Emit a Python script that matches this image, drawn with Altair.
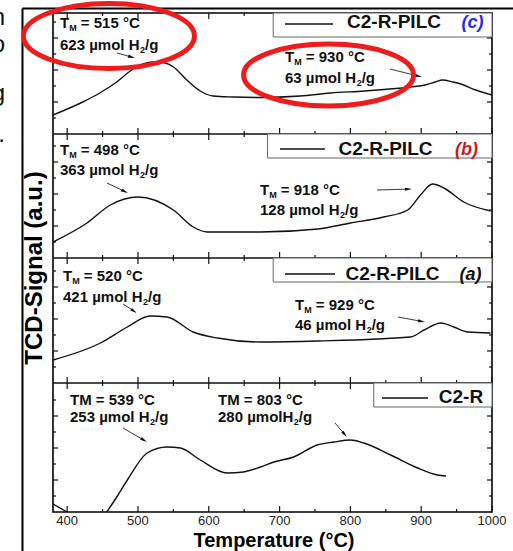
import math
import altair as alt
import pandas as pd

# ---------------- data (temperature in °C, signal height within each panel, a.u.) ----------------
temp_c = [380, 422, 446, 470, 493, 507, 520, 535, 550, 569, 588, 606, 634, 673, 729, 772, 820, 885, 906, 920, 930, 945, 956, 977, 1000]
sig_c = [18, 31, 40, 51, 64, 69, 71, 70.5, 66, 53, 42, 37, 36, 35.5, 37, 40, 42, 46, 48, 51, 53, 51, 49, 43, 38]

temp_b = [380, 428, 461, 500, 550, 578, 598, 673, 754, 800, 847, 881, 899, 916, 932, 960, 998]
sig_b = [16, 35, 53, 61, 48, 31, 26, 26, 29, 35, 41, 48, 63, 74, 70, 56, 47]

temp_a = [380, 447, 485, 517, 541, 578, 612, 673, 754, 885, 904, 928, 946, 966, 998]
sig_a = [23, 40, 56, 67, 66, 51, 45, 41, 42, 46, 53, 60, 56, 51, 50]

temp_r = [456, 470, 485, 513, 541, 560, 588, 626, 649, 673, 692, 720, 753, 777, 800, 819, 857, 895, 923, 935]
sig_r = [0, 15, 32, 59, 65, 64, 52, 39, 40, 45, 50, 55, 67, 70, 72, 69, 57, 44, 37, 36]

temp_r_tail = [380, 400]
sig_r_tail = [8, 0]

x_tick_labels = [400, 500, 600, 700, 800, 900, 1000]
x_title = "Temperature (°C)"
y_title = "TCD-Signal (a.u.)"
sample_names = ["C2-R-PILC", "C2-R-PILC", "C2-R-PILC", "C2-R"]
sample_tags = ["(c)", "(b)", "(a)", ""]
tag_colors = ["#2a2aee", "#cc1a1a", "#111111", "#111111"]

# ---------------- layout ----------------
W, H = 439, 499
X0, X1 = 380, 1000
PX = (X1 - X0) / W          # temperature units per pixel
panel_base = {"c": 379, "b": 254, "a": 129, "r": 0}
panel_edges = [0, 129, 254, 378, 499]
FONT = "Liberation Sans"

xs = alt.Scale(domain=[X0, X1], nice=False, zero=False)
ys = alt.Scale(domain=[0, H], nice=False, zero=False)

# curves
rows = []
for key, T, S in [("c", temp_c, sig_c), ("b", temp_b, sig_b), ("a", temp_a, sig_a), ("r", temp_r, sig_r)]:
    for t, s in zip(T, S):
        rows.append({"series": key, "T": t, "S": s + panel_base[key]})
for t, s in zip(temp_r_tail, sig_r_tail):
    rows.append({"series": "r_tail", "T": t, "S": s})
curve_df = pd.DataFrame(rows)

# ticks (inward)
tick_rows = []
for i, e in enumerate(panel_edges):
    dirs = []
    if i < len(panel_edges) - 1:
        dirs.append(1)
    if i > 0:
        dirs.append(-1)
    for d in dirs:
        for v in range(400, 1001, 50):
            ln = 6 if v % 100 == 0 else 3
            tick_rows.append({"x0": v, "x1": v, "y0": e, "y1": e + d * ln})
for lo, hi in zip(panel_edges[:-1], panel_edges[1:]):
    k = 1
    while lo + 16 * k < hi - 3:
        y = lo + 16 * k
        ln = 5 if k % 2 == 0 else 3
        tick_rows.append({"x0": X0, "x1": X0 + ln * PX, "y0": y, "y1": y})
        tick_rows.append({"x0": X1, "x1": X1 - ln * PX, "y0": y, "y1": y})
        k += 1
tick_df = pd.DataFrame(tick_rows)
sep_df = pd.DataFrame([{"x0": X0, "x1": X1, "y0": e} for e in panel_edges[1:-1]])

# axis labels and titles
xlab_df = pd.DataFrame([{"T": v, "S": -13, "label": str(v)} for v in x_tick_labels])
xtitle_df = pd.DataFrame([{"T": (X0 + X1) / 2 + 1.5 * PX, "S": -35, "label": x_title}])
ytitle_df = pd.DataFrame([{"T": X0 - 11 * PX, "S": 244, "label": y_title}])

# legend boxes
box_df = pd.DataFrame([
    {"x0": 691, "x1": X1, "y0": 475, "y1": 499},
    {"x0": 683, "x1": X1, "y0": 354, "y1": 378},
    {"x0": 691, "x1": X1, "y0": 230, "y1": 254},
    {"x0": 833, "x1": X1, "y0": 105, "y1": 129},
])
legend_line_df = pd.DataFrame([
    {"x0": 707.6, "x1": 775.4, "y0": 488},
    {"x0": 700.6, "x1": 764.1, "y0": 363},
    {"x0": 707.6, "x1": 778.3, "y0": 238},
    {"x0": 844.6, "x1": 909.6, "y0": 114},
])
name_pos = [(861.6, 484), (849.6, 357), (859.5, 232), (956.2, 109)]
tag_pos = [(972.4, 484), (964.0, 357), (969.6, 232), (0, 0)]
name_df = pd.DataFrame([{"T": p[0], "S": p[1], "label": n} for p, n in zip(name_pos, sample_names)])
tag_df = pd.DataFrame([{"T": p[0], "S": p[1], "label": t, "col": c}
                       for p, t, c in zip(tag_pos, sample_tags, tag_colors) if t])

# annotations
annotations = [
    (389.9, 484, [("T", 0), ("M", 1), (" = 515 °C", 0)]),
    (389.9, 462, [("623 µmol H", 0), ("2", 1), ("/g", 0)]),
    (707.6, 450, [("T", 0), ("M", 1), (" = 930 °C", 0)]),
    (707.6, 429, [("63 µmol H", 0), ("2", 1), ("/g", 0)]),
    (389.9, 357, [("T", 0), ("M", 1), (" = 498 °C", 0)]),
    (389.9, 337, [("363 µmol H", 0), ("2", 1), ("/g", 0)]),
    (672.3, 317, [("T", 0), ("M", 1), (" = 918 °C", 0)]),
    (672.3, 297, [("128 µmol H", 0), ("2", 1), ("/g", 0)]),
    (394.1, 231, [("T", 0), ("M", 1), (" = 520 °C", 0)]),
    (394.1, 210, [("421 µmol H", 0), ("2", 1), ("/g", 0)]),
    (721.8, 202, [("T", 0), ("M", 1), (" = 929 °C", 0)]),
    (721.8, 182, [("46 µmol H", 0), ("2", 1), ("/g", 0)]),
    (404.0, 107, [("TM = 539 °C", 0)]),
    (404.0, 90, [("253 µmol H", 0), ("2", 1), ("/g", 0)]),
    (613.0, 107, [("TM = 803 °C", 0)]),
    (613.0, 90, [("280 µmolH", 0), ("2", 1), ("/g", 0)]),
]
WB = {' ': 0.278, 'T': 0.611, 'M': 0.833, '=': 0.584, '°': 0.4, 'C': 0.722, 'µ': 0.611,
      'm': 0.889, 'o': 0.611, 'l': 0.278, 'H': 0.722, '/': 0.278, 'g': 0.611}


def text_w(s, size):
    return sum(WB.get(ch, 0.556) for ch in s) * size


ANN_SIZE, SUB_SIZE = 15, 9
main_rows, sub_rows = [], []
for t0, s0, parts in annotations:
    adv = 0.0
    for txt, sub in parts:
        size = SUB_SIZE if sub else ANN_SIZE
        while txt.startswith(" "):
            adv += text_w(" ", size)
            txt = txt[1:]
        row = {"T": t0 + adv * PX, "S": s0 - (3 if sub else 0), "label": txt}
        (sub_rows if sub else main_rows).append(row)
        adv += text_w(txt, size)
ann_main_df = pd.DataFrame(main_rows)
ann_sub_df = pd.DataFrame(sub_rows)

arrows = [
    ((470.4, 459), (495.8, 454)),
    ((855.9, 443), (901.1, 435)),
    ((456.3, 329), (485.9, 319)),
    ((837.6, 322), (887.0, 323)),
    ((478.9, 208), (498.6, 199)),
    ((867.2, 195), (905.4, 190)),
    ((478.9, 84), (512.8, 70)),
    ((778.3, 89), (795.2, 75)),
]
arr_rows, head_rows = [], []
for (ta, sa), (tb, sb) in arrows:
    dxp, dyp = (tb - ta) / PX, -(sb - sa)
    L = math.hypot(dxp, dyp)
    ux, uy = dxp / L, dyp / L
    hx, hy = tb - 3.5 * ux * PX, sb + 3.5 * uy
    arr_rows.append({"x0": ta, "x1": hx, "y0": sa, "y1": hy})
    head_rows.append({"T": hx, "S": hy, "ang": math.degrees(math.atan2(dyp, dxp)) % 360})
arr_df = pd.DataFrame(arr_rows)
head_df = pd.DataFrame(head_rows)

# outer frame of the cropped figure
frame_df = pd.DataFrame([
    {"x0": 336.9, "x1": 1030.0, "y0": 503.5, "y1": 503.5},
    {"x0": 336.9, "x1": 336.9, "y0": 503.5, "y1": -40},
])

# stray characters cut at the left edge
stray_df = pd.DataFrame([
    {"T": 312.2, "S": 487, "label": "n"},
    {"T": 312.2, "S": 460, "label": "o"},
    {"T": 312.2, "S": 411, "label": "g"},
    {"T": 312.2, "S": 370, "label": "."},
])

# red highlight ellipses
ell_rows = [
    {"T": 459.0, "S": 476, "size": 171 ** 2, "r": 0.38},
    {"T": 769.2, "S": 437, "size": 170 ** 2, "r": 0.365},
]


def ellipse_path(r):
    k = 0.5523
    return (f"M 1 0 C 1 {k*r:.4f} {k:.4f} {r:.4f} 0 {r:.4f} "
            f"C {-k:.4f} {r:.4f} -1 {k*r:.4f} -1 0 "
            f"C -1 {-k*r:.4f} {-k:.4f} {-r:.4f} 0 {-r:.4f} "
            f"C {k:.4f} {-r:.4f} 1 {-k*r:.4f} 1 0 Z")


# ---------------- chart ----------------
def XF(f):
    return alt.X(f"{f}:Q", scale=xs, axis=None)


def YF(f):
    return alt.Y(f"{f}:Q", scale=ys, axis=None)


curves = alt.Chart(curve_df).mark_line(
    interpolate="monotone", color="#111111", strokeWidth=1.4, clip=True
).encode(x=XF("T"), y=YF("S"), detail="series:N")

ticks = alt.Chart(tick_df).mark_rule(color="#111111", strokeWidth=1.2).encode(
    x=XF("x0"), x2="x1:Q", y=YF("y0"), y2="y1:Q")

seps = alt.Chart(sep_df).mark_rule(color="#111111", strokeWidth=1.6).encode(
    x=XF("x0"), x2="x1:Q", y=YF("y0"))

xlabels = alt.Chart(xlab_df).mark_text(
    font=FONT, fontSize=13, align="center", baseline="alphabetic", color="#222222"
).encode(x=XF("T"), y=YF("S"), text="label:N")

xtitle = alt.Chart(xtitle_df).mark_text(
    font=FONT, fontSize=20, fontWeight="bold", align="center", baseline="alphabetic", color="black"
).encode(x=XF("T"), y=YF("S"), text="label:N")

ytitle = alt.Chart(ytitle_df).mark_text(
    font=FONT, fontSize=24, fontWeight="bold", align="center", baseline="alphabetic",
    color="black", angle=270
).encode(x=XF("T"), y=YF("S"), text="label:N")

boxes = alt.Chart(box_df).mark_rect(fill="white", stroke="#666666", strokeWidth=1).encode(
    x=XF("x0"), x2="x1:Q", y=YF("y0"), y2="y1:Q")

legend_lines = alt.Chart(legend_line_df).mark_rule(color="#111111", strokeWidth=1.3).encode(
    x=XF("x0"), x2="x1:Q", y=YF("y0"))

names = alt.Chart(name_df).mark_text(
    font=FONT, fontSize=19, fontWeight="bold", align="center", baseline="alphabetic", color="#111111"
).encode(x=XF("T"), y=YF("S"), text="label:N")

tags = alt.Chart(tag_df).mark_text(
    font=FONT, fontSize=18, fontWeight="bold", fontStyle="italic", align="center", baseline="alphabetic"
).encode(x=XF("T"), y=YF("S"), text="label:N", color=alt.Color("col:N", scale=None))

ann_main = alt.Chart(ann_main_df).mark_text(
    font=FONT, fontSize=ANN_SIZE, fontWeight="bold", align="left", baseline="alphabetic", color="#111111"
).encode(x=XF("T"), y=YF("S"), text="label:N")

ann_sub = alt.Chart(ann_sub_df).mark_text(
    font=FONT, fontSize=SUB_SIZE, fontWeight="bold", align="left", baseline="alphabetic", color="#111111"
).encode(x=XF("T"), y=YF("S"), text="label:N")

arr_lines = alt.Chart(arr_df).mark_rule(color="#222222", strokeWidth=0.9).encode(
    x=XF("x0"), x2="x1:Q", y=YF("y0"), y2="y1:Q")

heads = alt.Chart(head_df).mark_point(
    shape="M 1 0 L -1 -0.45 L -1 0.45 Z", filled=True, color="#111111", opacity=1, size=49
).encode(x=XF("T"), y=YF("S"), angle=alt.Angle("ang:Q", scale=None))

frame = alt.Chart(frame_df).mark_rule(color="black", strokeWidth=2).encode(
    x=XF("x0"), x2="x1:Q", y=YF("y0"), y2="y1:Q")

stray = alt.Chart(stray_df).mark_text(
    font=FONT, fontSize=24, align="right", baseline="alphabetic", color="#111111"
).encode(x=XF("T"), y=YF("S"), text="label:N")

ellipses = []
for e in ell_rows:
    ellipses.append(
        alt.Chart(pd.DataFrame([e])).mark_point(
            shape=ellipse_path(e["r"]), filled=False, stroke="#ee1c1c", strokeWidth=5, opacity=1
        ).encode(x=XF("T"), y=YF("S"), size=alt.Size("size:Q", scale=None))
    )

chart = alt.layer(
    curves, ticks, seps, xlabels, xtitle, ytitle, boxes, legend_lines, names, tags, ann_main, ann_sub,
    arr_lines, heads, frame, stray, *ellipses
).properties(
    width=W, height=H,
    autosize=alt.AutoSizeParams(type="none"),
    padding={"left": 53, "top": 13, "right": 21, "bottom": 39},
    background="white",
).configure_view(stroke="black", strokeWidth=1.6)

chart.save("out.html", embed_options={"renderer": "svg", "actions": False})
